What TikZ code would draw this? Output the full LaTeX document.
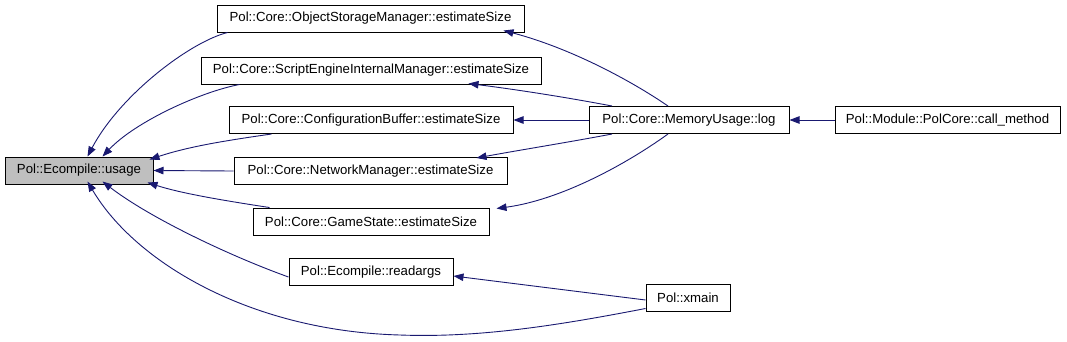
\documentclass[tikz,border=0pt]{standalone}
\usepackage{fontspec}
\setmainfont{Liberation Sans}
\usetikzlibrary{arrows.meta}
\definecolor{edgeblue}{HTML}{191970}
\definecolor{fillgray}{HTML}{BFBFBF}
\begin{document}
\begin{tikzpicture}[x=1pt,y=-1pt,
  box/.style={draw=black,line width=1pt,fill=white,inner sep=0pt,minimum height=27pt,
    font=\fontsize{13.2}{15}\selectfont,anchor=center},
  edge/.style={draw=edgeblue,line width=0.9pt,-{Triangle[length=10pt,width=7.5pt]}}]
\useasboundingbox (0,0) rectangle (1067,341);
\node[box,fill=fillgray,minimum width=148pt] (usage) at (79,170.5) {Pol::Ecompile::usage};
\node[box,minimum width=307pt] (osm) at (370.5,18.5) {Pol::Core::ObjectStorageManager::estimateSize};
\node[box,minimum width=340pt] (seim) at (371,70.5) {Pol::Core::ScriptEngineInternalManager::estimateSize};
\node[box,minimum width=284pt] (cb) at (371,120) {Pol::Core::ConfigurationBuffer::estimateSize};
\node[box,minimum width=200pt] (log) at (689,120) {Pol::Core::MemoryUsage::log};
\node[box,minimum width=225pt] (call) at (947.5,120) {Pol::Module::PolCore::call\_method};
\node[box,minimum width=273pt] (nm) at (370.5,171) {Pol::Core::NetworkManager::estimateSize};
\node[box,minimum width=236pt] (gs) at (371,221.5) {Pol::Core::GameState::estimateSize};
\node[box,minimum width=164pt] (ra) at (371,272) {Pol::Ecompile::readargs};
\node[box,minimum width=84pt] (xmain) at (688,297.5) {Pol::xmain};
% to usage
\draw[edge] ([xshift=11pt]osm.south west) .. controls (190,42) and (120,95) .. ([xshift=83pt]usage.north west);
\draw[edge] ([xshift=39pt]seim.south west) .. controls (200,92) and (135,122) .. ([xshift=98pt]usage.north west);
\draw[edge] ([xshift=43pt]cb.south west) .. controls (230,140) and (190,146) .. ([xshift=145pt,yshift=-3pt]usage.north west);
\draw[edge] (nm.west) -- (usage.east);
\draw[edge] ([xshift=17pt]gs.north west) .. controls (220,200) and (180,193) .. ([xshift=143pt,yshift=2pt]usage.south west);
\draw[edge] ([yshift=-5pt]ra.west) .. controls (230,256) and (150,218) .. ([xshift=98pt,yshift=3pt]usage.south west);
\draw[edge] ([yshift=-11pt]xmain.west) .. controls (560,325) and (480,338) .. (400,335)
  .. controls (250,331) and (135,262) .. ([xshift=83pt,yshift=3pt]usage.south west);
% from log
\draw[edge] ([xshift=-21pt]log.north) .. controls (630,80) and (570,48) .. ([xshift=-21pt,yshift=2pt]osm.south east);
\draw[edge] ([xshift=-77pt]log.north) .. controls (570,98) and (520,90) .. ([xshift=-73pt,yshift=1pt]seim.south east);
\draw[edge] (log.west) -- (cb.east);
\draw[edge] ([xshift=-77pt]log.south) .. controls (570,142) and (520,150) .. ([xshift=-31pt,yshift=-1pt]nm.north east);
\draw[edge] ([xshift=-21pt]log.south) .. controls (625,165) and (560,200) .. ([xshift=7pt,yshift=-1pt]gs.north east);
\draw[edge] (call.west) -- (log.east);
\draw[edge] ([yshift=-2.5pt]xmain.west) -- ([yshift=-4pt]ra.east);
\end{tikzpicture}
\end{document}
